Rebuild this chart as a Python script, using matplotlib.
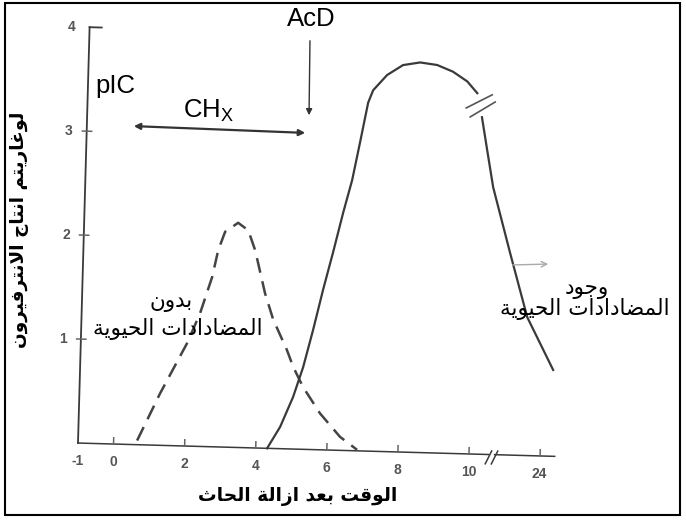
import matplotlib
matplotlib.use('Agg')
import matplotlib.pyplot as plt
import matplotlib.transforms as mtransforms
from matplotlib.patches import Rectangle

plt.rcParams['font.family'] = ['Liberation Sans', 'DejaVu Sans']
plt.rcParams['mathtext.fontset'] = 'custom'
plt.rcParams['mathtext.rm'] = 'Liberation Sans'

# data (x in axis positions, 24 h sits at position 12)
no_ab_x = [0.66, 1.27, 1.99, 2.33, 2.64, 2.79, 2.97, 3.33, 3.62, 3.83, 4.14, 4.39,
           4.80, 4.99, 5.28, 5.78, 6.36, 6.85]
no_ab_y = [0.04, 0.50, 0.99, 1.28, 1.63, 1.89, 2.07, 2.16, 2.09, 1.90, 1.49, 1.24,
           0.95, 0.79, 0.60, 0.35, 0.13, 0.01]

ab_x1 = [4.32, 4.67, 5.01, 5.27, 5.52, 5.77, 6.02, 6.27, 6.50, 6.69, 6.89, 7.02,
         7.40, 7.84, 8.32, 8.80, 9.25, 9.66, 9.95]
ab_y1 = [0.00, 0.21, 0.50, 0.79, 1.15, 1.54, 1.90, 2.28, 2.60, 2.96, 3.35, 3.47,
         3.62, 3.72, 3.75, 3.73, 3.67, 3.58, 3.47]
ab_x2 = [10.10, 10.27, 10.47, 11.00, 11.53, 12.30]
ab_y2 = [3.24, 2.93, 2.57, 1.94, 1.33, 0.83]

x_ticks = [-1, 0, 2, 4, 6, 8, 10, 12]
x_labels = ['-1', '0', '2', '4', '6', '8', '10', '24']
y_ticks = [1, 2, 3, 4]

ylabel_txt = 'لوغاريتم انتاج الانترفيرون'
xlabel_txt = 'الوقت بعد ازالة الحاث'
without_txt = ['بدون', 'المضادادات الحيوية']
with_txt = ['وجود', 'المضادادات الحيوية']

# matplotlib has no arabic shaping, so do a crude one by hand
FORMS = {
    'ا': (0xFE8D, 0xFE8E),
    'ب': (0xFE8F, 0xFE90, 0xFE91, 0xFE92),
    'ة': (0xFE93, 0xFE94),
    'ت': (0xFE95, 0xFE96, 0xFE97, 0xFE98),
    'ث': (0xFE99, 0xFE9A, 0xFE9B, 0xFE9C),
    'ج': (0xFE9D, 0xFE9E, 0xFE9F, 0xFEA0),
    'ح': (0xFEA1, 0xFEA2, 0xFEA3, 0xFEA4),
    'د': (0xFEA9, 0xFEAA),
    'ر': (0xFEAD, 0xFEAE),
    'ز': (0xFEAF, 0xFEB0),
    'ض': (0xFEBD, 0xFEBE, 0xFEBF, 0xFEC0),
    'ع': (0xFEC9, 0xFECA, 0xFECB, 0xFECC),
    'غ': (0xFECD, 0xFECE, 0xFECF, 0xFED0),
    'ف': (0xFED1, 0xFED2, 0xFED3, 0xFED4),
    'ق': (0xFED5, 0xFED6, 0xFED7, 0xFED8),
    'ل': (0xFEDD, 0xFEDE, 0xFEDF, 0xFEE0),
    'م': (0xFEE1, 0xFEE2, 0xFEE3, 0xFEE4),
    'ن': (0xFEE5, 0xFEE6, 0xFEE7, 0xFEE8),
    'و': (0xFEED, 0xFEEE),
    'ي': (0xFEF1, 0xFEF2, 0xFEF3, 0xFEF4),
    'لا': (0xFEFB, 0xFEFC),
}


def shape(s):
    toks = []
    i = 0
    while i < len(s):
        if s[i] == 'ل' and i + 1 < len(s) and s[i + 1] == 'ا':
            toks.append('لا')
            i += 2
        else:
            toks.append(s[i])
            i += 1
    out = []
    for k, t in enumerate(toks):
        f = FORMS.get(t)
        if f is None:
            out.append(t)
            continue
        prev = toks[k - 1] if k > 0 else None
        nxt = toks[k + 1] if k + 1 < len(toks) else None
        p = prev in FORMS and len(FORMS[prev]) == 4
        n = len(f) == 4 and nxt in FORMS
        idx = 3 if (p and n) else 1 if p else 2 if n else 0
        out.append(chr(f[idx]))
    return ''.join(out[::-1])


W, H = 686, 520
fig = plt.figure(figsize=(W / 100, H / 100), dpi=100)
ax = fig.add_axes([0, 0, 1, 1])
ax.axis('off')
ax.set_xlim(-3.193, 16.098)
ax.set_ylim(-0.740, 4.260)

# the scan is turned a bit clockwise
ox, oy = ax.transData.transform((-1, 0))
tr = ax.transData + mtransforms.Affine2D().rotate_deg_around(ox, oy, -1.6)

ink = '#3a3a3a'
# axes
ax.plot([-1, -1], [0, 4], color=ink, lw=1.3, transform=tr)
ax.plot([-1, -0.66], [4, 4], color=ink, lw=1.3, transform=tr)
ax.plot([-1, 10.55], [0, 0], color=ink, lw=1.1, transform=tr)
ax.plot([10.72, 12.41], [0, 0], color=ink, lw=1.1, transform=tr)
for c in [10.55, 10.72]:
    ax.plot([c - 0.085, c + 0.085], [-0.09, 0.035], color=ink, lw=1.1, transform=tr)
for t in y_ticks[:-1]:
    ax.plot([-1.12, -0.86], [t, t], color='#666', lw=1.1, transform=tr)
for t in x_ticks[1:]:
    ax.plot([t, t], [0, 0.06], color='#666', lw=1.1, transform=tr)

for t, lab in zip(x_ticks, x_labels):
    ax.text(t, -0.17, lab, ha='center', va='center', fontsize=10, color='#555',
            fontweight='bold', transform=tr)
for t in y_ticks:
    ax.text(-1.5, t, str(t), ha='center', va='center', fontsize=10, color='#555',
            fontweight='bold', transform=tr)

# curves
ax.plot(no_ab_x, no_ab_y, color='#444', lw=1.8, dashes=(6, 3.5), transform=tr)
ax.plot(ab_x1, ab_y1, color=ink, lw=1.6, transform=tr)
ax.plot(ab_x2, ab_y2, color=ink, lw=1.6, transform=tr)
ax.plot([9.65, 10.37], [3.325, 3.458], color='#555', lw=1.2, transform=tr)
ax.plot([9.77, 10.46], [3.24, 3.39], color='#555', lw=1.2, transform=tr)


# annotations (image pixel positions)
def fp(x, y):
    return (x, H - y)


fig.text(311 / W, (H - 19) / H, 'AcD', ha='center', va='center', fontsize=18.5)
fig.text(95 / W, (H - 93) / H, 'pIC', ha='left', va='baseline', fontsize=18.5)
fig.text(183 / W, (H - 117) / H, 'CH$_{\\mathregular{X}}$', ha='left', va='baseline', fontsize=18.5)

ax.annotate('', xy=fp(309, 118), xytext=fp(310, 38), xycoords='figure pixels',
            arrowprops=dict(arrowstyle='-|>', color='#333', lw=1.0, mutation_scale=9))
ax.annotate('', xy=fp(131, 126), xytext=fp(308, 133), xycoords='figure pixels',
            arrowprops=dict(arrowstyle='<|-|>', color='#333', lw=1.6, mutation_scale=9))
ax.annotate('', xy=fp(551, 264), xytext=fp(510, 265), xycoords='figure pixels',
            arrowprops=dict(arrowstyle='->', color='#aaa', lw=1.0, mutation_scale=10))

fig.text(171 / W, (H - 302) / H, shape(without_txt[0]), ha='center', va='center',
         fontsize=15.5, family='DejaVu Sans')
fig.text(178 / W, (H - 329) / H, shape(without_txt[1]), ha='center', va='center',
         fontsize=15.5, family='DejaVu Sans')
fig.text(587 / W, (H - 289) / H, shape(with_txt[0]), ha='center', va='center',
         fontsize=15.5, family='DejaVu Sans')
fig.text(585 / W, (H - 309) / H, shape(with_txt[1]), ha='center', va='center',
         fontsize=15.5, family='DejaVu Sans')

fig.text(20 / W, (H - 230) / H, shape(ylabel_txt), ha='center', va='center', rotation=90,
         fontsize=13.3, fontweight='bold', family='DejaVu Sans')
fig.text(298 / W, (H - 497) / H, shape(xlabel_txt), ha='center', va='center',
         fontsize=13.4, fontweight='bold', family='DejaVu Sans')

fig.add_artist(Rectangle((5 / W, 5 / H), 675 / W, 512 / H, transform=fig.transFigure,
                         fill=False, lw=1.5, ec='black'))

fig.savefig('out.png', dpi=100)
